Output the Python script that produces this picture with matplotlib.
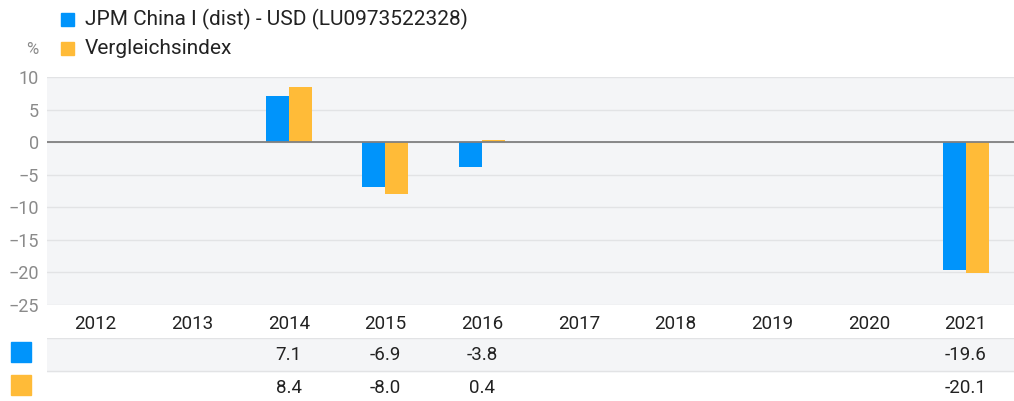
import matplotlib
matplotlib.use("Agg")
import matplotlib.pyplot as plt
import matplotlib.patches as mpatches
import numpy as np

plt.rcParams['font.family'] = ['Roboto', 'DejaVu Sans']

years = ['2012', '2013', '2014', '2015', '2016', '2017', '2018', '2019', '2020', '2021']
fund = [np.nan, np.nan, 7.1, -6.9, -3.8, np.nan, np.nan, np.nan, np.nan, -19.6]
index = [np.nan, np.nan, 8.4, -8.0, 0.4, np.nan, np.nan, np.nan, np.nan, -20.1]
fund_label = 'JPM China I (dist) - USD (LU0973522328)'
index_label = 'Vergleichsindex'

blue = '#0094fb'
orange = '#ffbb38'
W, H = 1014, 401

fig = plt.figure(figsize=(W / 100, H / 100), dpi=100)
left = 47 / W
ax = fig.add_axes([left, 1 - 305 / H, 1 - left, (305 - 77) / H])
ax.set_facecolor('#f4f5f7')

x = np.arange(len(years))
bw = 0.238
ax.bar(x - bw / 2, fund, bw, color=blue, zorder=3)
ax.bar(x + bw / 2, index, bw, color=orange, zorder=3)

ax.set_xlim(-0.5, len(years) - 0.5)
ax.set_ylim(-25, 10)
ax.set_yticks(np.arange(-25, 11, 5))
ax.grid(axis='y', color='#e2e3e5', linewidth=1, zorder=0)
ax.axhline(0, color='#808080', linewidth=1.3, zorder=4)
for s in ax.spines.values():
    s.set_visible(False)
ax.tick_params(axis='y', length=0, labelsize=13, labelcolor='#8a8a8a', pad=6)
ax.tick_params(axis='x', length=0, labelsize=13.5, labelcolor='#222222', pad=7)
ax.set_xticks(x)
ax.set_xticklabels(years)

# value table below the chart
tab = fig.add_axes([left, 0, 1 - left, (H - 338) / H])
tab.set_xlim(-0.5, len(years) - 0.5)
tab.set_ylim(0, H - 338)
tab.axis('off')
tab.axhspan(H - 371, H - 338, color='#f4f5f7', zorder=0)
tab.axhline(H - 338, color='#e2e3e5', linewidth=1)
tab.axhline(H - 371, color='#e2e3e5', linewidth=1)
for i in range(len(years)):
    if not np.isnan(fund[i]):
        tab.text(x[i], H - 355, f'{fund[i]:.1f}', ha='center', va='center', fontsize=13.5, color='#222222')
    if not np.isnan(index[i]):
        tab.text(x[i], H - 388, f'{index[i]:.1f}', ha='center', va='center', fontsize=13.5, color='#222222')

fig.patches.append(mpatches.Rectangle((11 / W, 1 - 362 / H), 20 / W, 20 / H, transform=fig.transFigure, color=blue))
fig.patches.append(mpatches.Rectangle((11 / W, 1 - 395 / H), 20 / W, 20 / H, transform=fig.transFigure, color=orange))

# legend
fig.patches.append(mpatches.Rectangle((61 / W, 1 - 26 / H), 13 / W, 13 / H, transform=fig.transFigure, color=blue))
fig.patches.append(mpatches.Rectangle((61 / W, 1 - 55 / H), 13 / W, 13 / H, transform=fig.transFigure, color=orange))
fig.text(85 / W, 1 - 19 / H, fund_label, fontsize=15, color='#222222', va='center')
fig.text(85 / W, 1 - 48 / H, index_label, fontsize=15, color='#222222', va='center')
fig.text(26 / W, 1 - 49 / H, '%', fontsize=12, color='#8a8a8a', va='center')

fig.savefig('out.png', dpi=100)
